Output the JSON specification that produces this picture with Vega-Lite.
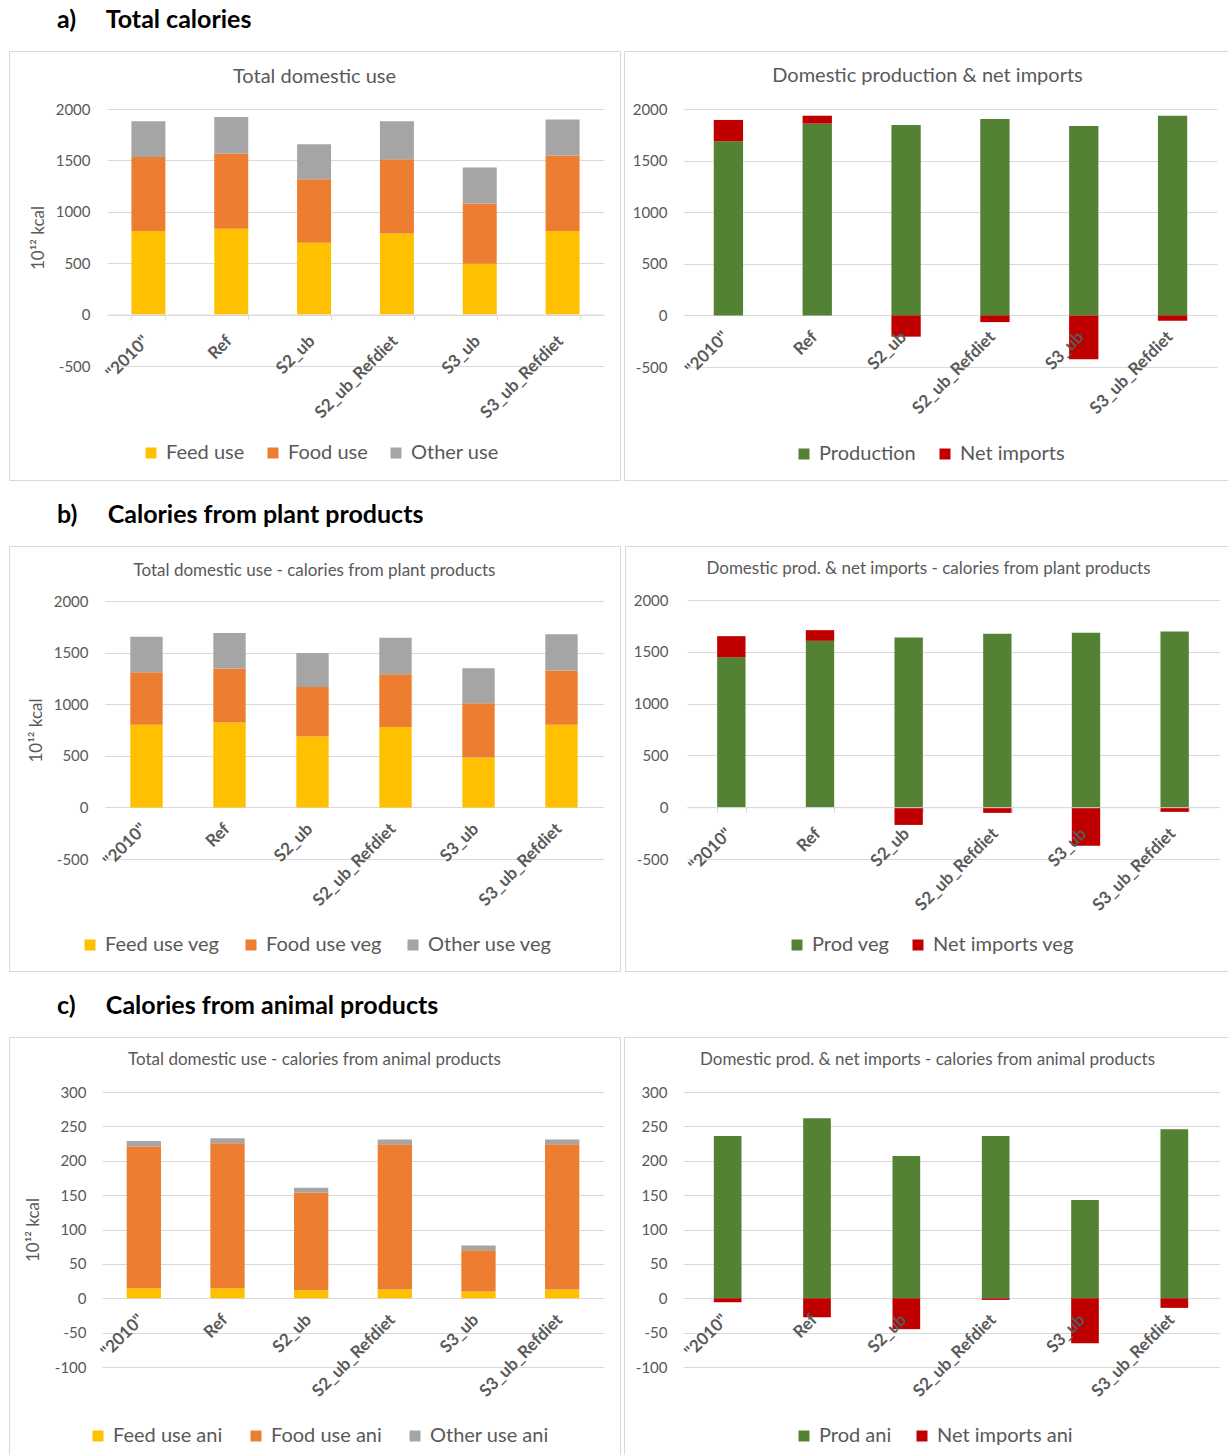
{
  "$schema": "https://vega.github.io/schema/vega-lite/v6.json",
  "background": "white",
  "padding": {"left": 7, "top": 7, "right": 0, "bottom": 0},
  "resolve": {"scale": {"color": "independent", "x": "independent", "y": "independent"}, "legend": {"color": "independent"}},
  "datasets": {
    "a_use": [
      {"s": "\"2010\"", "series": "Feed use", "v": 813, "k": 1},
      {"s": "\"2010\"", "series": "Food use", "v": 719, "k": 2},
      {"s": "\"2010\"", "series": "Other use", "v": 348, "k": 3},
      {"s": "Ref", "series": "Feed use", "v": 836, "k": 1},
      {"s": "Ref", "series": "Food use", "v": 731, "k": 2},
      {"s": "Ref", "series": "Other use", "v": 355, "k": 3},
      {"s": "S2_ub", "series": "Feed use", "v": 699, "k": 1},
      {"s": "S2_ub", "series": "Food use", "v": 618, "k": 2},
      {"s": "S2_ub", "series": "Other use", "v": 341, "k": 3},
      {"s": "S2_ub_Refdiet", "series": "Feed use", "v": 790, "k": 1},
      {"s": "S2_ub_Refdiet", "series": "Food use", "v": 722, "k": 2},
      {"s": "S2_ub_Refdiet", "series": "Other use", "v": 368, "k": 3},
      {"s": "S3_ub", "series": "Feed use", "v": 494, "k": 1},
      {"s": "S3_ub", "series": "Food use", "v": 586, "k": 2},
      {"s": "S3_ub", "series": "Other use", "v": 350, "k": 3},
      {"s": "S3_ub_Refdiet", "series": "Feed use", "v": 813, "k": 1},
      {"s": "S3_ub_Refdiet", "series": "Food use", "v": 735, "k": 2},
      {"s": "S3_ub_Refdiet", "series": "Other use", "v": 350, "k": 3}
    ],
    "a_prod": [
      {"s": "\"2010\"", "series": "Production", "v": 1687, "k": 1},
      {"s": "\"2010\"", "series": "Net imports", "v": 207, "k": 2},
      {"s": "Ref", "series": "Production", "v": 1858, "k": 1},
      {"s": "Ref", "series": "Net imports", "v": 77, "k": 2},
      {"s": "S2_ub", "series": "Production", "v": 1845, "k": 1},
      {"s": "S2_ub", "series": "Net imports", "v": -206, "k": 2},
      {"s": "S2_ub_Refdiet", "series": "Production", "v": 1903, "k": 1},
      {"s": "S2_ub_Refdiet", "series": "Net imports", "v": -65, "k": 2},
      {"s": "S3_ub", "series": "Production", "v": 1835, "k": 1},
      {"s": "S3_ub", "series": "Net imports", "v": -426, "k": 2},
      {"s": "S3_ub_Refdiet", "series": "Production", "v": 1935, "k": 1},
      {"s": "S3_ub_Refdiet", "series": "Net imports", "v": -52, "k": 2}
    ],
    "b_use": [
      {"s": "\"2010\"", "series": "Feed use veg", "v": 800, "k": 1},
      {"s": "\"2010\"", "series": "Food use veg", "v": 509, "k": 2},
      {"s": "\"2010\"", "series": "Other use veg", "v": 344, "k": 3},
      {"s": "Ref", "series": "Feed use veg", "v": 823, "k": 1},
      {"s": "Ref", "series": "Food use veg", "v": 522, "k": 2},
      {"s": "Ref", "series": "Other use veg", "v": 344, "k": 3},
      {"s": "S2_ub", "series": "Feed use veg", "v": 687, "k": 1},
      {"s": "S2_ub", "series": "Food use veg", "v": 480, "k": 2},
      {"s": "S2_ub", "series": "Other use veg", "v": 330, "k": 3},
      {"s": "S2_ub_Refdiet", "series": "Feed use veg", "v": 778, "k": 1},
      {"s": "S2_ub_Refdiet", "series": "Food use veg", "v": 512, "k": 2},
      {"s": "S2_ub_Refdiet", "series": "Other use veg", "v": 353, "k": 3},
      {"s": "S3_ub", "series": "Feed use veg", "v": 483, "k": 1},
      {"s": "S3_ub", "series": "Food use veg", "v": 525, "k": 2},
      {"s": "S3_ub", "series": "Other use veg", "v": 340, "k": 3},
      {"s": "S3_ub_Refdiet", "series": "Feed use veg", "v": 800, "k": 1},
      {"s": "S3_ub_Refdiet", "series": "Food use veg", "v": 526, "k": 2},
      {"s": "S3_ub_Refdiet", "series": "Other use veg", "v": 353, "k": 3}
    ],
    "b_prod": [
      {"s": "\"2010\"", "series": "Prod veg", "v": 1447, "k": 1},
      {"s": "\"2010\"", "series": "Net imports veg", "v": 204, "k": 2},
      {"s": "Ref", "series": "Prod veg", "v": 1606, "k": 1},
      {"s": "Ref", "series": "Net imports veg", "v": 103, "k": 2},
      {"s": "S2_ub", "series": "Prod veg", "v": 1638, "k": 1},
      {"s": "S2_ub", "series": "Net imports veg", "v": -171, "k": 2},
      {"s": "S2_ub_Refdiet", "series": "Prod veg", "v": 1674, "k": 1},
      {"s": "S2_ub_Refdiet", "series": "Net imports veg", "v": -55, "k": 2},
      {"s": "S3_ub", "series": "Prod veg", "v": 1683, "k": 1},
      {"s": "S3_ub", "series": "Net imports veg", "v": -372, "k": 2},
      {"s": "S3_ub_Refdiet", "series": "Prod veg", "v": 1696, "k": 1},
      {"s": "S3_ub_Refdiet", "series": "Net imports veg", "v": -45, "k": 2}
    ],
    "c_use": [
      {"s": "\"2010\"", "series": "Feed use ani", "v": 14.6, "k": 1},
      {"s": "\"2010\"", "series": "Food use ani", "v": 206, "k": 2},
      {"s": "\"2010\"", "series": "Other use ani", "v": 8, "k": 3},
      {"s": "Ref", "series": "Feed use ani", "v": 14.6, "k": 1},
      {"s": "Ref", "series": "Food use ani", "v": 211, "k": 2},
      {"s": "Ref", "series": "Other use ani", "v": 7, "k": 3},
      {"s": "S2_ub", "series": "Feed use ani", "v": 11.7, "k": 1},
      {"s": "S2_ub", "series": "Food use ani", "v": 142, "k": 2},
      {"s": "S2_ub", "series": "Other use ani", "v": 7, "k": 3},
      {"s": "S2_ub_Refdiet", "series": "Feed use ani", "v": 12.6, "k": 1},
      {"s": "S2_ub_Refdiet", "series": "Food use ani", "v": 211.4, "k": 2},
      {"s": "S2_ub_Refdiet", "series": "Other use ani", "v": 7, "k": 3},
      {"s": "S3_ub", "series": "Feed use ani", "v": 9.7, "k": 1},
      {"s": "S3_ub", "series": "Food use ani", "v": 60, "k": 2},
      {"s": "S3_ub", "series": "Other use ani", "v": 7, "k": 3},
      {"s": "S3_ub_Refdiet", "series": "Feed use ani", "v": 12.6, "k": 1},
      {"s": "S3_ub_Refdiet", "series": "Food use ani", "v": 211.4, "k": 2},
      {"s": "S3_ub_Refdiet", "series": "Other use ani", "v": 7, "k": 3}
    ],
    "c_prod": [
      {"s": "\"2010\"", "series": "Prod ani", "v": 236, "k": 1},
      {"s": "\"2010\"", "series": "Net imports ani", "v": -5.8, "k": 2},
      {"s": "Ref", "series": "Prod ani", "v": 262, "k": 1},
      {"s": "Ref", "series": "Net imports ani", "v": -27.7, "k": 2},
      {"s": "S2_ub", "series": "Prod ani", "v": 207, "k": 1},
      {"s": "S2_ub", "series": "Net imports ani", "v": -45, "k": 2},
      {"s": "S2_ub_Refdiet", "series": "Prod ani", "v": 236, "k": 1},
      {"s": "S2_ub_Refdiet", "series": "Net imports ani", "v": -2.4, "k": 2},
      {"s": "S3_ub", "series": "Prod ani", "v": 143, "k": 1},
      {"s": "S3_ub", "series": "Net imports ani", "v": -65.6, "k": 2},
      {"s": "S3_ub_Refdiet", "series": "Prod ani", "v": 246, "k": 1},
      {"s": "S3_ub_Refdiet", "series": "Net imports ani", "v": -14, "k": 2}
    ]
  },
  "spacing": 21,
  "vconcat": [
    {
      "title": {"text": "a)\u00a0\u00a0\u00a0\u00a0\u00a0Total calories", "anchor": "start", "frame": "group", "dx": 48, "offset": 18, "fontSize": 25, "fontWeight": "bold", "color": "black", "font": "Lato"},
      "spacing": 2,
      "resolve": {"scale": {"color": "independent", "x": "independent", "y": "independent"}, "legend": {"color": "independent"}},
      "hconcat": [
        {
          "width": 611, "height": 429,
          "title": {"text": "Total domestic use", "offset": -46, "baseline": "middle", "fontSize": 20, "fontWeight": "normal", "color": "#595959", "font": "Lato"},
          "data": {"name": "a_use"},
          "mark": {"type": "bar"},
          "encoding": {
            "x": {"field": "s", "type": "nominal", "sort": ["\"2010\"", "Ref", "S2_ub", "S2_ub_Refdiet", "S3_ub", "S3_ub_Refdiet"],
              "scale": {"range": [98, 595], "paddingInner": 0.59, "paddingOuter": 0.295},
              "axis": {"title": null, "offset": -165.4, "domain": true, "ticks": true, "tickBand": "extent", "tickSize": 5, "zindex": 1}},
            "y": {"field": "v", "type": "quantitative", "stack": "zero",
              "scale": {"domain": [-500, 2000], "range": [315, 58], "nice": false, "zero": false},
              "axis": {"values": [-500, 0, 500, 1000, 1500, 2000], "labelExpr": "datum.value + ''", "offset": -85, "title": "10¹² kcal", "titlePadding": 8}},
            "color": {"field": "series", "type": "nominal",
              "scale": {"domain": ["Feed use", "Food use", "Other use"], "range": ["#FFC000", "#ED7D31", "#A5A5A5"]},
              "legend": {"orient": "none", "legendX": 132, "legendY": 392, "direction": "horizontal", "title": null, "columnPadding": 18}},
            "order": {"field": "k", "type": "quantitative"}
          }
        },
        {
          "width": 607, "height": 429,
          "title": {"text": "Domestic production & net imports", "offset": -45, "baseline": "middle", "fontSize": 20, "fontWeight": "normal", "color": "#595959", "font": "Lato"},
          "data": {"name": "a_prod"},
          "mark": {"type": "bar"},
          "encoding": {
            "x": {"field": "s", "type": "nominal", "sort": ["\"2010\"", "Ref", "S2_ub", "S2_ub_Refdiet", "S3_ub", "S3_ub_Refdiet"],
              "scale": {"range": [60, 593], "paddingInner": 0.67, "paddingOuter": 0.335},
              "axis": {"title": null, "offset": -164.6, "domain": false, "ticks": false, "zindex": 1}},
            "y": {"field": "v", "type": "quantitative", "stack": "zero",
              "scale": {"domain": [-500, 2000], "range": [316, 58], "nice": false, "zero": false},
              "axis": {"values": [-500, 0, 500, 1000, 1500, 2000], "labelExpr": "datum.value + ''", "offset": -47, "title": null}},
            "color": {"field": "series", "type": "nominal",
              "scale": {"domain": ["Production", "Net imports"], "range": ["#548235", "#C00000"]},
              "legend": {"orient": "none", "legendX": 170, "legendY": 393, "direction": "horizontal", "title": null, "columnPadding": 19}},
            "order": {"field": "k", "type": "quantitative"}
          }
        }
      ]
    },
    {
      "title": {"text": "b)\u00a0\u00a0\u00a0\u00a0\u00a0Calories from plant products", "anchor": "start", "frame": "group", "dx": 48, "offset": 18, "fontSize": 25, "fontWeight": "bold", "color": "black", "font": "Lato"},
      "spacing": 2,
      "resolve": {"scale": {"color": "independent", "x": "independent", "y": "independent"}, "legend": {"color": "independent"}},
      "hconcat": [
        {
          "width": 611, "height": 425,
          "title": {"text": "Total domestic use - calories from plant products", "offset": -42, "baseline": "middle", "fontSize": 17, "fontWeight": "normal", "color": "#595959", "font": "Lato"},
          "data": {"name": "b_use"},
          "mark": {"type": "bar"},
          "encoding": {
            "x": {"field": "s", "type": "nominal", "sort": ["\"2010\"", "Ref", "S2_ub", "S2_ub_Refdiet", "S3_ub", "S3_ub_Refdiet"],
              "scale": {"range": [96, 594], "paddingInner": 0.61, "paddingOuter": 0.305},
              "axis": {"title": null, "offset": -163.6, "domain": false, "ticks": false, "zindex": 1}},
            "y": {"field": "v", "type": "quantitative", "stack": "zero",
              "scale": {"domain": [-500, 2000], "range": [313, 55], "nice": false, "zero": false},
              "axis": {"values": [-500, 0, 500, 1000, 1500, 2000], "labelExpr": "datum.value + ''", "offset": -83, "title": "10¹² kcal", "titlePadding": 8}},
            "color": {"field": "series", "type": "nominal",
              "scale": {"domain": ["Feed use veg", "Food use veg", "Other use veg"], "range": ["#FFC000", "#ED7D31", "#A5A5A5"]},
              "legend": {"orient": "none", "legendX": 71, "legendY": 389, "direction": "horizontal", "title": null, "columnPadding": 21}},
            "order": {"field": "k", "type": "quantitative"}
          }
        },
        {
          "width": 607, "height": 425,
          "title": {"text": "Domestic prod. & net imports - calories from plant products", "offset": -40, "baseline": "middle", "fontSize": 17, "fontWeight": "normal", "color": "#595959", "font": "Lato"},
          "data": {"name": "b_prod"},
          "mark": {"type": "bar"},
          "encoding": {
            "x": {"field": "s", "type": "nominal", "sort": ["\"2010\"", "Ref", "S2_ub", "S2_ub_Refdiet", "S3_ub", "S3_ub_Refdiet"],
              "scale": {"range": [62, 594], "paddingInner": 0.68, "paddingOuter": 0.34},
              "axis": {"title": null, "offset": -163.8, "domain": true, "ticks": true, "tickBand": "extent", "tickSize": 5, "zindex": 1}},
            "y": {"field": "v", "type": "quantitative", "stack": "zero",
              "scale": {"domain": [-500, 2000], "range": [313, 54], "nice": false, "zero": false},
              "axis": {"values": [-500, 0, 500, 1000, 1500, 2000], "labelExpr": "datum.value + ''", "offset": -47, "title": null}},
            "color": {"field": "series", "type": "nominal",
              "scale": {"domain": ["Prod veg", "Net imports veg"], "range": ["#548235", "#C00000"]},
              "legend": {"orient": "none", "legendX": 162, "legendY": 389, "direction": "horizontal", "title": null, "columnPadding": 18}},
            "order": {"field": "k", "type": "quantitative"}
          }
        }
      ]
    },
    {
      "title": {"text": "c)\u00a0\u00a0\u00a0\u00a0\u00a0Calories from animal products", "anchor": "start", "frame": "group", "dx": 48, "offset": 18, "fontSize": 25, "fontWeight": "bold", "color": "black", "font": "Lato"},
      "spacing": 2,
      "resolve": {"scale": {"color": "independent", "x": "independent", "y": "independent"}, "legend": {"color": "independent"}},
      "hconcat": [
        {
          "width": 611, "height": 425,
          "title": {"text": "Total domestic use - calories from animal products", "offset": -40, "baseline": "middle", "fontSize": 17, "fontWeight": "normal", "color": "#595959", "font": "Lato"},
          "data": {"name": "c_use"},
          "mark": {"type": "bar"},
          "encoding": {
            "x": {"field": "s", "type": "nominal", "sort": ["\"2010\"", "Ref", "S2_ub", "S2_ub_Refdiet", "S3_ub", "S3_ub_Refdiet"],
              "scale": {"range": [93, 595], "paddingInner": 0.59, "paddingOuter": 0.295},
              "axis": {"title": null, "offset": -163.75, "domain": false, "ticks": false, "zindex": 1}},
            "y": {"field": "v", "type": "quantitative", "stack": "zero",
              "scale": {"domain": [-100, 300], "range": [330, 55], "nice": false, "zero": false},
              "axis": {"values": [-100, -50, 0, 50, 100, 150, 200, 250, 300], "labelExpr": "datum.value + ''", "offset": -81, "title": "10¹² kcal", "titlePadding": 12}},
            "color": {"field": "series", "type": "nominal",
              "scale": {"domain": ["Feed use ani", "Food use ani", "Other use ani"], "range": ["#FFC000", "#ED7D31", "#A5A5A5"]},
              "legend": {"orient": "none", "legendX": 79, "legendY": 389, "direction": "horizontal", "title": null, "columnPadding": 23}},
            "order": {"field": "k", "type": "quantitative"}
          }
        },
        {
          "width": 607, "height": 425,
          "title": {"text": "Domestic prod. & net imports - calories from animal products", "offset": -40, "baseline": "middle", "fontSize": 17, "fontWeight": "normal", "color": "#595959", "font": "Lato"},
          "data": {"name": "c_prod"},
          "mark": {"type": "bar"},
          "encoding": {
            "x": {"field": "s", "type": "nominal", "sort": ["\"2010\"", "Ref", "S2_ub", "S2_ub_Refdiet", "S3_ub", "S3_ub_Refdiet"],
              "scale": {"range": [59, 595], "paddingInner": 0.69, "paddingOuter": 0.345},
              "axis": {"title": null, "offset": -163.75, "domain": false, "ticks": false, "zindex": 1}},
            "y": {"field": "v", "type": "quantitative", "stack": "zero",
              "scale": {"domain": [-100, 300], "range": [330, 55], "nice": false, "zero": false},
              "axis": {"values": [-100, -50, 0, 50, 100, 150, 200, 250, 300], "labelExpr": "datum.value + ''", "offset": -47, "title": null}},
            "color": {"field": "series", "type": "nominal",
              "scale": {"domain": ["Prod ani", "Net imports ani"], "range": ["#548235", "#C00000"]},
              "legend": {"orient": "none", "legendX": 170, "legendY": 389, "direction": "horizontal", "title": null, "columnPadding": 20}},
            "order": {"field": "k", "type": "quantitative"}
          }
        }
      ]
    }
  ],
  "config": {
    "font": "Lato",
    "view": {"stroke": "#d9d9d9", "strokeWidth": 1},
    "axis": {"labelColor": "#595959", "labelFont": "Lato", "labelFontSize": 15, "gridColor": "#d9d9d9", "gridWidth": 1, "domainColor": "#d9d9d9", "tickColor": "#d9d9d9", "titleColor": "#595959", "titleFont": "Lato", "titleFontSize": 17, "titleFontWeight": "normal"},
    "axisX": {"labelAngle": -45, "labelFontWeight": "bold", "labelFontSize": 17, "labelPadding": 13, "labelOffset": -8, "grid": false},
    "axisY": {"domain": false, "ticks": false, "tickSize": 0, "labelPadding": 4, "grid": true},
    "legend": {"labelColor": "#595959", "labelFont": "Lato", "labelFontSize": 20, "symbolType": "square", "symbolSize": 121, "symbolStrokeWidth": 0, "columnPadding": 24, "labelOffset": 5}
  }
}
